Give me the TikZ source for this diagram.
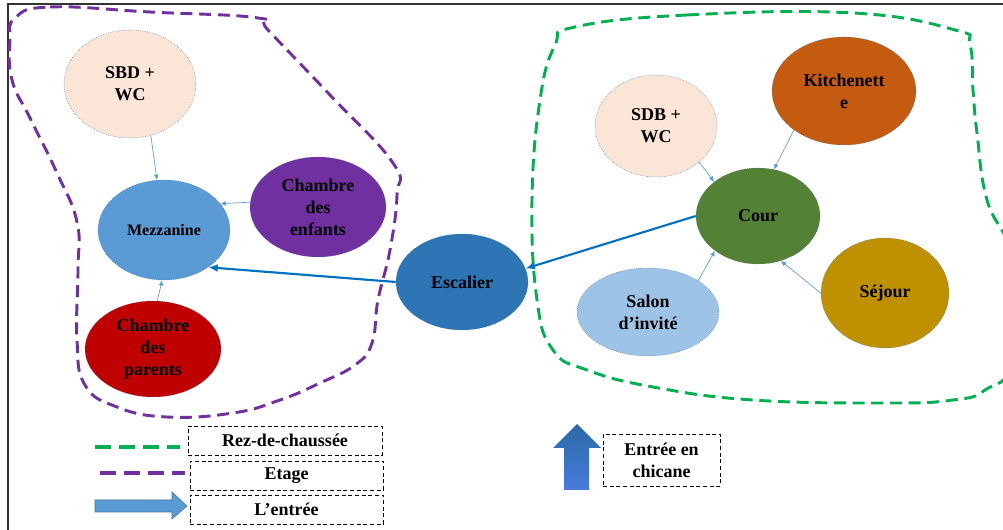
\documentclass[tikz,border=0pt]{standalone}
\usepackage{fontspec}
\setmainfont{Liberation Serif}
\usepackage{tikz}
\usetikzlibrary{arrows.meta,shapes.geometric}
\definecolor{rimblue}{HTML}{41719C}
\definecolor{bathpink}{HTML}{FBE5D6}
\definecolor{mezzblue}{HTML}{5B9BD5}
\definecolor{kidpurple}{HTML}{7030A0}
\definecolor{parentred}{HTML}{C00000}
\definecolor{stairblue}{HTML}{2E75B6}
\definecolor{kitchorange}{HTML}{C55A11}
\definecolor{courgreen}{HTML}{548235}
\definecolor{salonblue}{HTML}{9DC3E6}
\definecolor{sejourgold}{HTML}{BF9000}
\definecolor{entryblue}{HTML}{0070C0}
\definecolor{groundgreen}{HTML}{00B050}

\begin{document}
\begin{tikzpicture}[x=0.75pt,y=-0.75pt,>=Latex,
room/.style={ellipse,draw=rimblue,densely dotted,inner sep=0pt,align=center,
  font=\fontsize{13.5}{16.5}\selectfont\bfseries},
roomlink/.style={->,draw=mezzblue,line width=0.5pt,>={Latex[length=4pt,width=3.5pt]}},
entry/.style={->,draw=entryblue,line width=1.6pt,>={Latex[length=7pt,width=6pt]}},
floorline/.style={dashed,line width=2.2pt,dash pattern=on 9pt off 5pt},
legendbox/.style={draw,densely dashed,thin,align=center,inner sep=0pt,
  font=\fontsize{13.5}{16.5}\selectfont\bfseries}]
\useasboundingbox (0,0) rectangle (1003,530);
\clip (0,0) rectangle (1003,530);
\draw[line width=0.8pt,black!80] (8,530) -- (8,4) -- (1003,4);

% etage
\draw[floorline,kidpurple] plot[smooth cycle,tension=0.75] coordinates {
 (15,18) (50,7) (150,12) (258,18) (268,30) (330,95) (393,163) (397,195)
 (390,250) (378,300) (372,343) (355,365) (320,383) (280,400) (233,413)
 (167,417) (117,407) (85,385) (77,340) (78,270) (77,222) (57,173) (30,118)
 (12,80) (10,40)};
% rez-de-chaussee
\draw[floorline,groundgreen] plot[smooth cycle,tension=0.75] coordinates {
 (575,27) (687,15) (853,13) (955,30) (970,45) (973,90) (977,133) (987,200)
 (1012,260) (1012,360) (985,390) (953,400) (887,403) (753,400) (653,387)
 (587,370) (553,350) (537,300) (532,200) (540,100) (555,45)};

\node[room,fill=bathpink,minimum width=99pt,minimum height=81pt] (sbdL) at (130,84) {SBD +\\WC};
\node[room,fill=mezzblue,minimum width=99pt,minimum height=75pt,
  font=\fontsize{12}{14}\selectfont\bfseries] (mezz) at (164,230) {Mezzanine};
\node[room,fill=kidpurple,minimum width=102pt,minimum height=75pt] (enfants) at (318,207) {Chambre\\des\\enfants};
\node[room,fill=parentred,minimum width=102pt,minimum height=72pt] (parents) at (153,349) {Chambre\\des\\parents};
\node[room,fill=stairblue,minimum width=99pt,minimum height=72pt] (escalier) at (462,282) {Escalier};
\node[room,fill=bathpink,minimum width=91.5pt,minimum height=76.5pt] (sdbR) at (656,126) {SDB +\\WC};
\node[room,fill=kitchorange,minimum width=108pt,minimum height=81pt] (kitch) at (844,91) {Kitchenett\\e};
\node[room,fill=courgreen,minimum width=93pt,minimum height=72pt] (cour) at (758,216) {Cour};
\node[room,fill=salonblue,minimum width=106.5pt,minimum height=66pt] (salon) at (648,312) {Salon\\d’invité};
\node[room,fill=sejourgold,minimum width=96pt,minimum height=82.5pt] (sejour) at (885,293) {Séjour};

\foreach \a/\b in {sbdL.-68/mezz.98,enfants.176/mezz.25,parents.85/mezz.-92,
  sdbR.-40/cour.142,kitch.-142/cour.71,salon.32/cour.-141,sejour.180/cour.-63}
  \draw[roomlink] (\a) -- (\b);
\draw[entry] (escalier.180) -- (mezz.-40);
\draw[entry] (cour.180) -- (escalier.12);

% legende
\draw[floorline,groundgreen,line width=3pt,dash pattern=on 12pt off 6pt] (95,447) -- (180,447);
\draw[floorline,kidpurple,line width=3pt,dash pattern=on 12pt off 6pt] (100,473) -- (185,473);
\filldraw[fill=mezzblue,draw=rimblue,thin] (95,500) -- (172,500) -- (172,492) -- (187,506)
  -- (172,519) -- (172,512) -- (95,512) -- cycle;
\node[legendbox,minimum width=145.5pt,minimum height=21.75pt] (rdc) at (285,440.5) {Rez-de-chaussée};
\node[legendbox,minimum width=145pt,minimum height=21.75pt] (etage) at (286.5,475.5) {Etage};
\node[legendbox,minimum width=145pt,minimum height=21.75pt] (lentree) at (286.5,509.5) {L’entrée};
\shade[top color=stairblue!90!black,bottom color=mezzblue!80!blue] (564,490) -- (564,448) -- (553,448)
  -- (577,424) -- (601,448) -- (589,448) -- (589,490) -- cycle;
\node[legendbox,minimum width=88pt,minimum height=39pt] (chicane) at (661.5,460) {Entrée en\\chicane};
\end{tikzpicture}
\end{document}
